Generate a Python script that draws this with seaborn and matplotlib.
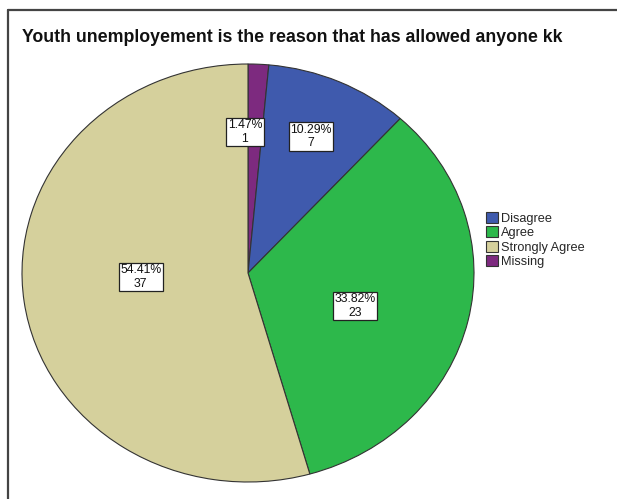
import matplotlib
matplotlib.use("Agg")
import matplotlib.pyplot as plt
import seaborn as sns
import numpy as np
from matplotlib.patches import Patch
from matplotlib.lines import Line2D

categories = ["Disagree", "Agree", "Strongly Agree", "Missing"]
counts = [7, 23, 37, 1]
colors = ["#3F5AAD", "#2DB84B", "#D5D09C", "#7D2A7F"]
title = "Youth unemployement is the reason that has allowed anyone kk"

# drawing order of slices, clockwise from 12 o'clock
pie_order = [3, 0, 1, 2]
# label placement style per slice in drawing order (radial distance, angular offset in degrees)
label_dist = [0.675, 0.71, 0.50, 0.475]
label_shift = [3.8, 0.6, -5.2, -5.7]

sns.set_theme(style="white")
plt.rcParams["font.family"] = ["Liberation Sans", "DejaVu Sans"]

W, H = 617, 499
fig = plt.figure(figsize=(W / 100, H / 100), dpi=100)
fig.patch.set_facecolor("white")

# outer frame (left and top edges visible)
fig.add_artist(Line2D([8 / W, 8 / W], [0, 1 - 10 / H], color="#444444", lw=1.6,
                      transform=fig.transFigure))
fig.add_artist(Line2D([8 / W, 1], [1 - 10 / H, 1 - 10 / H], color="#444444", lw=1.6,
                      transform=fig.transFigure))

fig.text(22 / W, 1 - 38 / H, title, fontsize=12.75, fontweight="bold",
         ha="left", va="center", color="#111111")

left, right, top, bottom = 22, 474, 64, 482
ax = fig.add_axes([left / W, 1 - bottom / H, (right - left) / W, (bottom - top) / H])
vals = [counts[i] for i in pie_order]
cols = [colors[i] for i in pie_order]
wedges, _ = ax.pie(vals, colors=cols, startangle=90, counterclock=False,
                   wedgeprops=dict(edgecolor="#333333", linewidth=0.8))
ax.set_aspect("auto")
ax.set_xlim(-1, 1)
ax.set_ylim(-1, 1)
ax.axis("off")

total = sum(counts)
for w, c, d, s in zip(wedges, vals, label_dist, label_shift):
    mid = np.deg2rad((w.theta1 + w.theta2) / 2 + s)
    x, y = d * np.cos(mid), d * np.sin(mid)
    ax.text(x, y, f"{c / total * 100:.2f}%\n{c}", ha="center", va="center",
            fontsize=8.8, linespacing=1.15, color="#111111",
            bbox=dict(boxstyle="square,pad=0.12", facecolor="white",
                      edgecolor="#222222", linewidth=0.9))

handles = [Patch(facecolor=col, edgecolor="#333333", linewidth=0.8, label=cat)
           for cat, col in zip(categories, colors)]
fig.legend(handles=handles, loc="upper left", bbox_to_anchor=(486 / W, 1 - 212 / H),
           frameon=False, fontsize=9.2, handlelength=0.95, handleheight=0.95,
           handletextpad=0.2, labelspacing=0.12, borderpad=0, borderaxespad=0)

fig.savefig("out.png", dpi=100, facecolor="white")
